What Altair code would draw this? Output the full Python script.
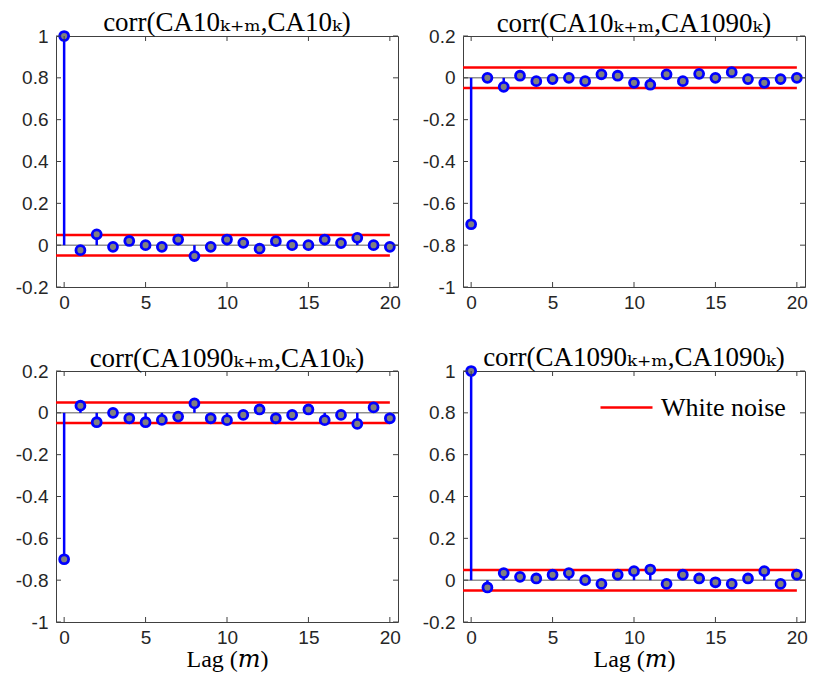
import altair as alt
import pandas as pd

# ---------------- data ----------------
LAGS = list(range(21))
CA10_CA10 = [1.0, -0.024, 0.052, -0.008, 0.02, 0.0, -0.008, 0.027, -0.052, -0.008,
             0.027, 0.011, -0.017, 0.019, 0.0, 0.0, 0.027, 0.01, 0.035, 0.0, -0.008]
CA10_CA1090 = [-0.70, 0.0, -0.043, 0.01, -0.016, -0.006, 0.0, -0.016, 0.017, 0.01,
               -0.024, -0.033, 0.017, -0.016, 0.019, 0.0, 0.027, -0.006, -0.024, -0.006, 0.0]
CA1090_CA10 = [-0.70, 0.034, -0.045, 0.0, -0.026, -0.045, -0.034, -0.018, 0.045, -0.026,
               -0.035, -0.01, 0.016, -0.026, -0.01, 0.016, -0.035, -0.01, -0.053, 0.026, -0.026]
CA1090_CA1090 = [1.0, -0.035, 0.034, 0.016, 0.008, 0.026, 0.034, 0.0, -0.018, 0.026,
                 0.043, 0.051, -0.018, 0.026, 0.008, -0.01, -0.018, 0.008, 0.043, -0.018, 0.026]
WHITE_NOISE_BOUND = 0.049

PANEL_TITLES = ["corr(CA10ₖ₊ₘ,CA10ₖ)", "corr(CA10ₖ₊ₘ,CA1090ₖ)",
                "corr(CA1090ₖ₊ₘ,CA10ₖ)", "corr(CA1090ₖ₊ₘ,CA1090ₖ)"]
X_TITLE = "Lag (𝑚)"
LEGEND_LABEL = "White noise"

X_LIMITS = [-0.5, 20.5]
X_TICKS = [0, 5, 10, 15, 20]
Y_LIMITS_POS = [-0.2, 1]
Y_LIMITS_NEG = [-1, 0.2]
Y_TICKS_POS = [-0.2, 0, 0.2, 0.4, 0.6, 0.8, 1]
Y_TICKS_NEG = [-1, -0.8, -0.6, -0.4, -0.2, 0, 0.2]

# ---------------- style ----------------
W, H = 342, 251
TICK_LEN = 5
AXIS_GREY = "#404040"
LABEL_COLOR = "#262626"
BLUE = "#0000ff"
RED = "#ff0000"
GREY_FILL = "#808080"
SERIF = "'Liberation Serif', 'DejaVu Serif', serif"
SANS = "'Liberation Sans', Arial, sans-serif"


def xenc(field, ax_title=False):
    ax = dict(values=X_TICKS, labelFont=SANS, labelFontSize=19,
              labelColor=LABEL_COLOR, labelPadding=6, ticks=False, domain=False,
              grid=False, labelFlush=False)
    if ax_title:
        ax.update(title=X_TITLE, titleFont=SERIF, titleFontSize=24,
                  titleFontWeight="normal", titleColor="black", titlePadding=0)
    else:
        ax["title"] = None
    return alt.X(f"{field}:Q", scale=alt.Scale(domain=X_LIMITS, nice=False, zero=False),
                 axis=alt.Axis(**ax))


def yenc(field, ydom, yticks):
    ax = alt.Axis(values=yticks, labelExpr="'' + datum.value", labelFont=SANS,
                  labelFontSize=19, labelColor=LABEL_COLOR, labelPadding=8, ticks=False,
                  domain=False, grid=False, title=None, labelFlush=False)
    return alt.Y(f"{field}:Q", scale=alt.Scale(domain=ydom, nice=False, zero=False), axis=ax)


def panel(values, title, ydom, yticks, ax_title, legend):
    d = pd.DataFrame({"lag": LAGS, "r": values, "base": [0] * len(LAGS)})
    base_df = pd.DataFrame({"x": [X_LIMITS[0]], "x2": [X_LIMITS[1]], "y": [0]})
    wn_df = pd.DataFrame({"x": [X_LIMITS[0]] * 2, "x2": [LAGS[-1]] * 2,
                          "y": [WHITE_NOISE_BOUND, -WHITE_NOISE_BOUND],
                          "s": [LEGEND_LABEL] * 2})
    yt = pd.DataFrame({"v": yticks})
    xt = pd.DataFrame({"v": X_TICKS})

    X = lambda f: xenc(f, ax_title)
    Y = lambda f: yenc(f, ydom, yticks)

    baseline = alt.Chart(base_df).mark_rule(color="#5a5a5a", strokeWidth=1).encode(
        x=X("x"), x2="x2:Q", y=Y("y"))
    if legend:
        wn = alt.Chart(wn_df).mark_rule(strokeWidth=2.5).encode(
            x=X("x"), x2="x2:Q", y=Y("y"),
            color=alt.Color("s:N", scale=alt.Scale(domain=[LEGEND_LABEL], range=[RED]),
                            legend=alt.Legend(orient="none", legendX=136, legendY=9,
                                              title=None, symbolType="stroke",
                                              symbolSize=2704, symbolStrokeWidth=2.5,
                                              labelFont=SERIF, labelFontSize=26,
                                              labelColor="black", labelOffset=7, padding=0)))
    else:
        wn = alt.Chart(wn_df).mark_rule(strokeWidth=2.5, color=RED).encode(
            x=X("x"), x2="x2:Q", y=Y("y"))
    stems = alt.Chart(d).mark_rule(color=BLUE, strokeWidth=2.5).encode(
        x=X("lag"), y=Y("r"), y2="base:Q")
    pts = alt.Chart(d).mark_point(shape="circle", size=80, filled=True, color=GREY_FILL,
                                  fill=GREY_FILL, stroke=BLUE, strokeWidth=2.8,
                                  opacity=1, fillOpacity=1, strokeOpacity=1).encode(
        x=X("lag"), y=Y("r"))
    tl = alt.Chart(yt).mark_rule(color=AXIS_GREY, strokeWidth=1).encode(
        y=Y("v"), x=alt.value(0), x2=alt.value(TICK_LEN))
    tr = alt.Chart(yt).mark_rule(color=AXIS_GREY, strokeWidth=1).encode(
        y=Y("v"), x=alt.value(W), x2=alt.value(W - TICK_LEN))
    tb = alt.Chart(xt).mark_rule(color=AXIS_GREY, strokeWidth=1).encode(
        x=X("v"), y=alt.value(H), y2=alt.value(H - TICK_LEN))
    tt = alt.Chart(xt).mark_rule(color=AXIS_GREY, strokeWidth=1).encode(
        x=X("v"), y=alt.value(0), y2=alt.value(TICK_LEN))

    return alt.layer(baseline, wn, stems, pts, tl, tr, tb, tt).properties(
        width=W, height=H,
        title=alt.TitleParams(title, font=SERIF, fontSize=27,
                              fontWeight="normal", color="black", offset=-11))


p1 = panel(CA10_CA10, PANEL_TITLES[0], Y_LIMITS_POS, Y_TICKS_POS, False, False)
p2 = panel(CA10_CA1090, PANEL_TITLES[1], Y_LIMITS_NEG, Y_TICKS_NEG, False, False)
p3 = panel(CA1090_CA10, PANEL_TITLES[2], Y_LIMITS_NEG, Y_TICKS_NEG, True, False)
p4 = panel(CA1090_CA1090, PANEL_TITLES[3], Y_LIMITS_POS, Y_TICKS_POS, True, True)

chart = alt.concat(p1, p2, p3, p4, columns=2,
                   spacing=alt.RowColnumber(row=84, column=65), bounds="flush").resolve_scale(
    x="independent", y="independent", color="independent").resolve_legend(
    color="independent").configure_view(stroke=AXIS_GREY, strokeWidth=1).properties(
    padding={"left": 6, "top": 0, "right": 0, "bottom": 0})

chart.save("out.html", embed_options={"renderer": "svg", "actions": False})
